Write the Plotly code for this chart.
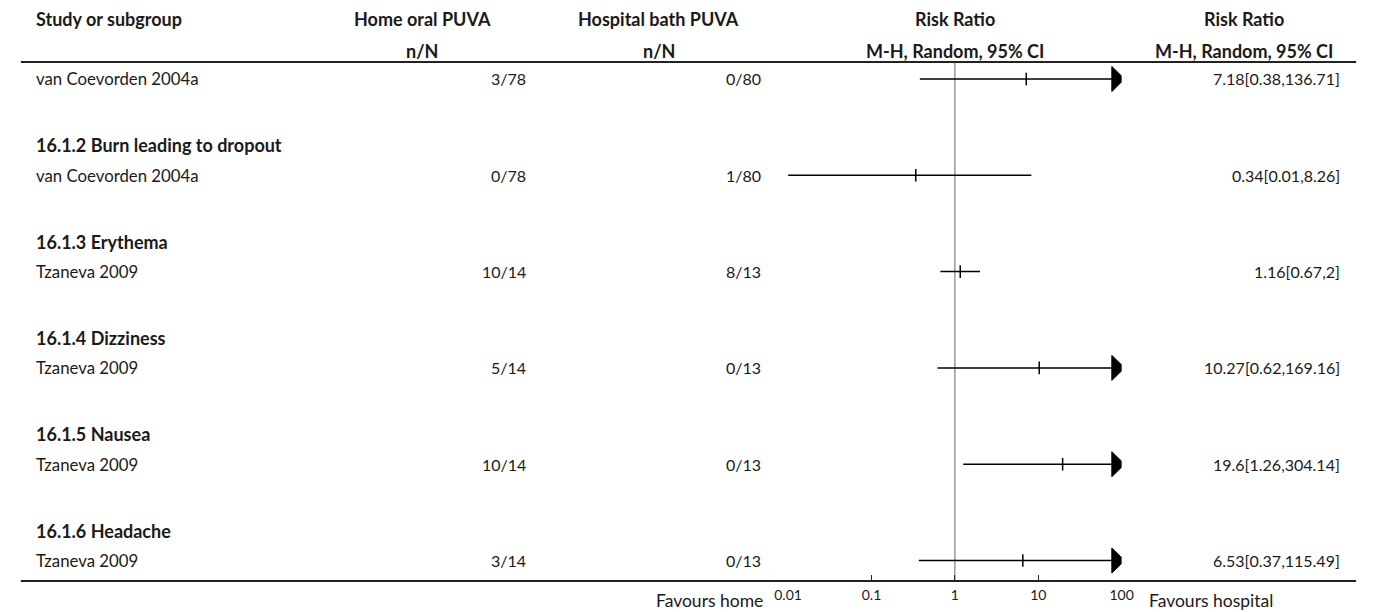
import math
import plotly.graph_objects as go

# ---------------- data ----------------
subgroups = [None, "16.1.2 Burn leading to dropout", "16.1.3 Erythema",
             "16.1.4 Dizziness", "16.1.5 Nausea", "16.1.6 Headache"]
studies = ["van Coevorden 2004a", "van Coevorden 2004a", "Tzaneva 2009",
           "Tzaneva 2009", "Tzaneva 2009", "Tzaneva 2009"]
home_nN = ["3/78", "0/78", "10/14", "5/14", "10/14", "3/14"]
hosp_nN = ["0/80", "1/80", "8/13", "0/13", "0/13", "0/13"]
rr = [7.18, 0.34, 1.16, 10.27, 19.6, 6.53]
ci_lo = [0.38, 0.01, 0.67, 0.62, 1.26, 0.37]
ci_hi = [136.71, 8.26, 2, 169.16, 304.14, 115.49]
tick_vals = [0.01, 0.1, 1, 10, 100]
tick_text = ["0.01", "0.1", "1", "10", "100"]
col_headers1 = ["Study or subgroup", "Home oral PUVA", "Hospital bath PUVA", "Risk Ratio", "Risk Ratio"]
col_headers2 = ["", "n/N", "n/N", "M-H, Random, 95% CI", "M-H, Random, 95% CI"]
favours_left = "Favours home"
favours_right = "Favours hospital"

# ---------------- layout constants ----------------
W, H = 1375, 612
FONT = "Lato"
FS_NAME = 16.8
FS_NUM = 16
FS_FAV = 17.5
FS_B = 18
X_LO, X_HI = 0.01, 100
PX_LO, PX_HI = 789, 1129
ROW_H = 32.1
Y0 = 79
HEAD_LINE_Y = 62
AXIS_Y = 581
ARROW_W = 13
ARROW_HALF_H = 12.5
px_per_decade = (PX_HI - PX_LO) / (math.log10(X_HI) - math.log10(X_LO))

fig = go.Figure()

def study_y(k):
    return Y0 + k * 3 * ROW_H

# reference line at RR = 1
fig.add_trace(go.Scatter(x=[1, 1], y=[HEAD_LINE_Y, AXIS_Y], mode="lines",
                         line=dict(color="#999999", width=1.5), hoverinfo="skip",
                         showlegend=False, cliponaxis=False))

for k in range(len(studies)):
    y = study_y(k)
    lo = max(ci_lo[k], X_LO)
    hi = ci_hi[k]
    clipped = hi > X_HI
    base = X_HI * 10 ** ((3 - ARROW_W) / px_per_decade)
    tip = X_HI * 10 ** (3 / px_per_decade)
    line_hi = base if clipped else hi
    fig.add_trace(go.Scatter(x=[lo, line_hi], y=[y, y], mode="lines",
                             line=dict(color="black", width=1.5), hoverinfo="skip",
                             showlegend=False, cliponaxis=False))
    if clipped:
        fig.add_trace(go.Scatter(x=[base, tip, base, base],
                                 y=[y - ARROW_HALF_H, y, y + ARROW_HALF_H, y - ARROW_HALF_H],
                                 mode="lines", fill="toself", fillcolor="black",
                                 line=dict(color="black", width=1), hoverinfo="skip",
                                 showlegend=False, cliponaxis=False))
    fig.add_trace(go.Scatter(x=[rr[k]], y=[y], mode="markers",
                             marker=dict(symbol="line-ns", size=9,
                                         line=dict(color="black", width=1.5)),
                             hoverinfo="skip", showlegend=False, cliponaxis=False))

annotations = []

def txt(x, y, s, anchor="left", bold=False, size=None, color="#1a1a1a"):
    if size is None:
        size = FS_B if bold else FS_NAME
    annotations.append(dict(x=x / W, y=1 - y / H, xref="paper", yref="paper",
                            text=("<b>%s</b>" % s) if bold else s, showarrow=False,
                            xanchor=anchor, yanchor="middle", align=anchor,
                            borderpad=0, borderwidth=0,
                            font=dict(family=FONT, size=size, color=color)))

# header
hx = [(22, "left"), (416, "center"), (657, "center"), (959, "center"), (1254, "center")]
for i in range(5):
    txt(hx[i][0], 19, col_headers1[i], hx[i][1], bold=True)
    if col_headers2[i]:
        txt(hx[i][0], 51, col_headers2[i], hx[i][1], bold=True)

for k in range(len(studies)):
    y = study_y(k)
    if subgroups[k]:
        txt(22, y - 30, subgroups[k], bold=True)
    txt(22, y, studies[k], size=FS_NAME)
    txt(522, y, home_nN[k], "right", size=FS_NUM)
    txt(761, y, hosp_nN[k], "right", size=FS_NUM)
    txt(1352, y, "%g[%g,%g]" % (rr[k], ci_lo[k], ci_hi[k]), "right", size=FS_NUM)

txt(763, 600, favours_left, "right", size=FS_FAV)
txt(1157, 600, favours_right, "left", size=FS_FAV)

shapes = [
    dict(type="line", xref="paper", yref="paper", x0=7 / W, x1=1368 / W,
         y0=1 - HEAD_LINE_Y / H, y1=1 - HEAD_LINE_Y / H, line=dict(color="#222", width=2)),
    dict(type="line", xref="paper", yref="paper", x0=7 / W, x1=1368 / W,
         y0=1 - AXIS_Y / H, y1=1 - AXIS_Y / H, line=dict(color="#222", width=2)),
]

fig.update_layout(
    width=W, height=H, margin=dict(l=0, r=0, t=0, b=0),
    plot_bgcolor="white", paper_bgcolor="white",
    annotations=annotations, shapes=shapes, showlegend=False,
    xaxis=dict(type="log", range=[math.log10(X_LO), math.log10(X_HI)],
               domain=[PX_LO / W, PX_HI / W], anchor="free", position=1 - AXIS_Y / H,
               showgrid=False, zeroline=False, showline=False,
               ticks="inside", ticklen=6, tickwidth=1, tickcolor="#222",
               tickvals=tick_vals, ticktext=tick_text, ticklabelstandoff=4,
               tickfont=dict(family=FONT, size=14, color="#1a1a1a")),
    yaxis=dict(range=[H, 0], domain=[0, 1], visible=False, showgrid=False,
               zeroline=False, fixedrange=True),
)

fig.write_html("out.html")
